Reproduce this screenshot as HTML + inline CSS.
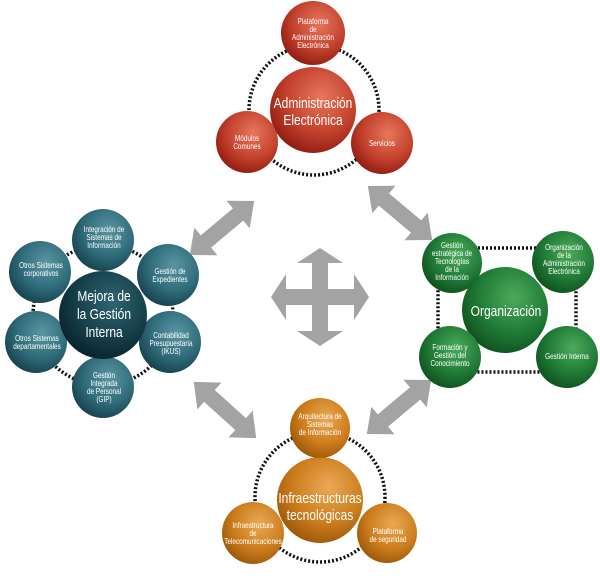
<!DOCTYPE html>
<html><head><meta charset="utf-8"><style>
html,body{margin:0;padding:0;background:#fff;}
svg{display:block}
text{font-family:"Liberation Sans",sans-serif;fill:#fff;text-anchor:middle}
</style></head><body>
<svg width="600" height="576" viewBox="0 0 600 576" xmlns="http://www.w3.org/2000/svg">
<defs>
<radialGradient id="r" cx="0.6" cy="0.35" r="0.7"><stop offset="0" stop-color="#e8775c"/><stop offset="0.6" stop-color="#c2402c"/><stop offset="1" stop-color="#8e1a10"/></radialGradient>
<radialGradient id="t" cx="0.6" cy="0.35" r="0.7"><stop offset="0" stop-color="#5a96a2"/><stop offset="0.6" stop-color="#2f6a78"/><stop offset="1" stop-color="#153f4b"/></radialGradient>
<radialGradient id="td" cx="0.6" cy="0.35" r="0.7"><stop offset="0" stop-color="#2e6672"/><stop offset="0.6" stop-color="#153e48"/><stop offset="1" stop-color="#08222a"/></radialGradient>
<radialGradient id="g" cx="0.6" cy="0.35" r="0.7"><stop offset="0" stop-color="#4caa5c"/><stop offset="0.6" stop-color="#1f7a35"/><stop offset="1" stop-color="#0f4f1e"/></radialGradient>
<radialGradient id="o" cx="0.6" cy="0.35" r="0.7"><stop offset="0" stop-color="#eaa955"/><stop offset="0.6" stop-color="#cc7c1c"/><stop offset="1" stop-color="#9a5608"/></radialGradient>
<path id="da" d="M-42,0 L-21,-18 L-21,-8 L21,-8 L21,-18 L42,0 L21,18 L21,8 L-21,8 L-21,18 Z" fill="#a3a3a3"/>
</defs>
<g stroke="#111" stroke-width="3.5" stroke-dasharray="2,2" fill="none">
<circle cx="314" cy="110" r="65"/>
<circle cx="103" cy="315" r="70"/>
<rect x="438" y="248" width="138" height="124" rx="40"/>
<circle cx="320" cy="497" r="65"/>
</g>
<path transform="translate(320,297)" fill="#a3a3a3" d="M0,-49 L23,-34 L8,-34 L8,-8 L34,-8 L34,-23 L49,0 L34,23 L34,8 L8,8 L8,34 L23,34 L0,49 L-23,34 L-8,34 L-8,8 L-34,8 L-34,23 L-49,0 L-34,-23 L-34,-8 L-8,-8 L-8,-34 L-23,-34 Z"/>
<use href="#da" transform="translate(222,228) rotate(-40)"/>
<use href="#da" transform="translate(400,213) rotate(40)"/>
<use href="#da" transform="translate(225,410) rotate(42)"/>
<use href="#da" transform="translate(399,407) rotate(-40)"/>
<!-- red -->
<circle cx="313" cy="110" r="43" fill="url(#r)"/>
<circle cx="313" cy="33" r="32" fill="url(#r)"/>
<circle cx="247" cy="142" r="31" fill="url(#r)"/>
<circle cx="382" cy="143" r="31" fill="url(#r)"/>
<g transform="translate(313,0) scale(0.8,1)">
<text font-size="15"><tspan x="0" y="108">Administración</tspan><tspan x="0" y="125">Electrónica</tspan></text>
<text font-size="8"><tspan x="0" y="24">Plataforma</tspan><tspan x="0" y="32">de</tspan><tspan x="0" y="40">Administración</tspan><tspan x="0" y="48">Electrónica</tspan></text>
</g>
<g transform="translate(247,0) scale(0.8,1)"><text font-size="8"><tspan x="0" y="141">Módulos</tspan><tspan x="0" y="149">Comunes</tspan></text></g>
<g transform="translate(382,0) scale(0.8,1)"><text x="0" y="146" font-size="8">Servicios</text></g>
<!-- teal -->
<circle cx="103" cy="240" r="31" fill="url(#t)"/>
<circle cx="168" cy="275" r="31" fill="url(#t)"/>
<circle cx="170" cy="342" r="31" fill="url(#t)"/>
<circle cx="103" cy="387" r="31" fill="url(#t)"/>
<circle cx="36" cy="342" r="31" fill="url(#t)"/>
<circle cx="40" cy="272" r="31" fill="url(#t)"/>
<circle cx="103" cy="315" r="44" fill="url(#td)"/>
<g transform="translate(104,0) scale(0.8,1)">
<text font-size="15"><tspan x="0" y="301">Mejora de</tspan><tspan x="0" y="319">la Gestión</tspan><tspan x="0" y="337">Interna</tspan></text>
<text font-size="8"><tspan x="0" y="232">Integración de</tspan><tspan x="0" y="240">Sistemas de</tspan><tspan x="0" y="248">Información</tspan></text>
<text font-size="8"><tspan x="0" y="378">Gestión</tspan><tspan x="0" y="386">Integrada</tspan><tspan x="0" y="394">de Personal</tspan><tspan x="0" y="402">(GIP)</tspan></text>
</g>
<g transform="translate(170,0) scale(0.8,1)"><text font-size="8"><tspan x="0" y="274">Gestión de</tspan><tspan x="0" y="282">Expedientes</tspan></text></g>
<g transform="translate(171,0) scale(0.8,1)"><text font-size="8"><tspan x="0" y="338">Contabilidad</tspan><tspan x="0" y="346">Presupuestaria</tspan><tspan x="0" y="354">(IKUS)</tspan></text></g>
<g transform="translate(37,0) scale(0.8,1)"><text font-size="8"><tspan x="0" y="341">Otros Sistemas</tspan><tspan x="0" y="349">departamentales</tspan></text></g>
<g transform="translate(41,0) scale(0.8,1)"><text font-size="8"><tspan x="0" y="268">Otros Sistemas</tspan><tspan x="0" y="276">corporativos</tspan></text></g>
<!-- green -->
<circle cx="505" cy="310" r="43" fill="url(#g)"/>
<circle cx="452" cy="263" r="30" fill="url(#g)"/>
<circle cx="563" cy="262" r="31" fill="url(#g)"/>
<circle cx="450" cy="357" r="31" fill="url(#g)"/>
<circle cx="567" cy="357" r="31" fill="url(#g)"/>
<g transform="translate(506,0) scale(0.8,1)"><text x="0" y="316" font-size="15">Organización</text></g>
<g transform="translate(452,0) scale(0.8,1)"><text font-size="8"><tspan x="0" y="248">Gestión</tspan><tspan x="0" y="256">estratégica de</tspan><tspan x="0" y="264">Tecnologías</tspan><tspan x="0" y="272">de la</tspan><tspan x="0" y="280">Información</tspan></text></g>
<g transform="translate(564,0) scale(0.8,1)"><text font-size="8"><tspan x="0" y="250">Organización</tspan><tspan x="0" y="258">de la</tspan><tspan x="0" y="266">Administración</tspan><tspan x="0" y="274">Electrónica</tspan></text></g>
<g transform="translate(450,0) scale(0.8,1)"><text font-size="8"><tspan x="0" y="350">Formación y</tspan><tspan x="0" y="358">Gestión del</tspan><tspan x="0" y="366">Conocimiento</tspan></text></g>
<g transform="translate(567,0) scale(0.8,1)"><text x="0" y="359" font-size="8">Gestión Interna</text></g>
<!-- orange -->
<circle cx="320" cy="500" r="43" fill="url(#o)"/>
<circle cx="320" cy="428" r="30" fill="url(#o)"/>
<circle cx="253" cy="533" r="31" fill="url(#o)"/>
<circle cx="387" cy="533" r="30" fill="url(#o)"/>
<g transform="translate(320,0) scale(0.8,1)">
<text font-size="15"><tspan x="0" y="503">Infraestructuras</tspan><tspan x="0" y="520">tecnológicas</tspan></text>
<text font-size="8"><tspan x="0" y="419">Arquitectura de</tspan><tspan x="0" y="427">Sistemas</tspan><tspan x="0" y="435">de Información</tspan></text>
</g>
<g transform="translate(253,0) scale(0.8,1)"><text font-size="8"><tspan x="0" y="528">Infraestructura</tspan><tspan x="0" y="536">de</tspan><tspan x="0" y="544">Telecomunicaciones</tspan></text></g>
<g transform="translate(388,0) scale(0.8,1)"><text font-size="8"><tspan x="0" y="534">Plataforma</tspan><tspan x="0" y="542">de seguridad</tspan></text></g>
</svg>
</body></html>
